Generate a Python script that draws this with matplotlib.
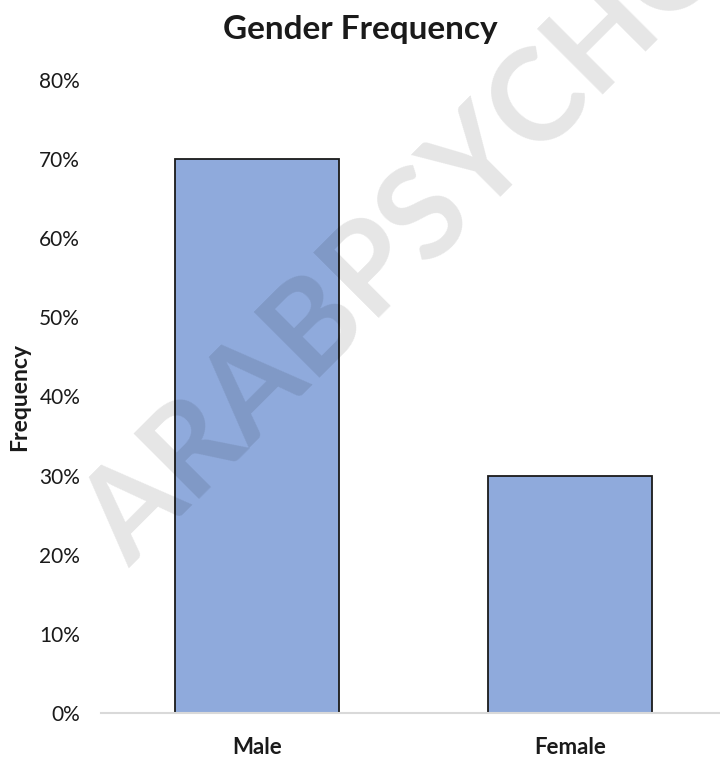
import matplotlib
matplotlib.use("Agg")
import matplotlib.pyplot as plt
from matplotlib.ticker import PercentFormatter

categories = ["Male", "Female"]
frequency = [0.70, 0.30]
y_ticks = [0.0, 0.1, 0.2, 0.3, 0.4, 0.5, 0.6, 0.7, 0.8]

plt.rcParams["font.family"] = ["Lato", "DejaVu Sans"]

W, H = 720, 758
fig = plt.figure(figsize=(W / 100, H / 100), dpi=100)
ax_left, ax_right, ax_top, ax_bottom = 101, 720, 80, 713
ax = fig.add_axes([ax_left / W, 1 - ax_bottom / H,
                   (ax_right - ax_left) / W, (ax_bottom - ax_top) / H])

x = list(range(len(categories)))
ax.bar(x, frequency, width=0.525, color="#8FAADC", edgecolor="#1a1a1a",
       linewidth=1.3, zorder=2)

ax.set_xlim(-0.5, 1.481)
ax.set_ylim(0, 0.8)
ax.set_yticks(y_ticks)
ax.yaxis.set_major_formatter(PercentFormatter(1.0, decimals=0))
ax.set_xticks(x)
ax.set_xticklabels(categories, fontweight="bold", fontsize=16)

for side in ("top", "right", "left"):
    ax.spines[side].set_visible(False)
ax.spines["bottom"].set_color("#d9d9d9")
ax.spines["bottom"].set_linewidth(1.5)
ax.tick_params(axis="both", length=0, colors="#1a1a1a")
ax.tick_params(axis="y", labelsize=15, pad=15)
ax.tick_params(axis="x", pad=17)

fig.text(20 / W, 1 - 397 / H, "Frequency", rotation=90, ha="center",
         va="center", fontsize=16.5, fontweight="bold", color="#1a1a1a")
fig.text(0.5, 1 - 30 / H, "Gender Frequency", ha="center", va="center",
         fontsize=24, fontweight="bold", color="#1a1a1a")

# diagonal watermark laid over the plot
fig.text(130 / W, 1 - 568 / H, "ARABPSYCHOLOGY", rotation=45,
         rotation_mode="anchor", ha="left", va="baseline",
         fontsize=92, fontweight="bold", color="black", alpha=0.1, zorder=10)

fig.savefig("out.png", dpi=100)
